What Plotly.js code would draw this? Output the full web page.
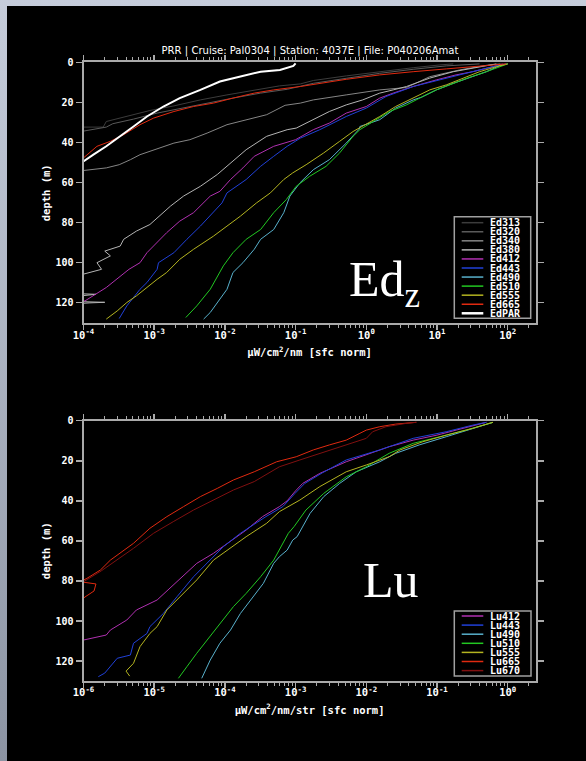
<!DOCTYPE html>
<html><head><meta charset="utf-8">
<script src="https://cdn.plot.ly/plotly-3.0.1.min.js"></script>
<style>
html,body{margin:0;padding:0;width:586px;height:761px;overflow:hidden;background:linear-gradient(#c6cddb,#8c94a3);}
#chart{width:586px;height:761px;}
</style></head><body><div id="chart"></div>
<script>
// ---------------- Ed (downwelling irradiance) ----------------
const edNames  = ["Ed313","Ed320","Ed340","Ed380","Ed412","Ed443","Ed490","Ed510","Ed555","Ed665","EdPAR"];
const edColors = ["#3c3c3c","#5a5a5a","#858585","#b4b4b4","#b030b0","#2040d8","#58b0cc","#22c822","#b4b420","#e02a10","#ffffff"];

const ed313_depth = [0.8,1.3,2.7,4.7,6.8,9.1,10.8,11.8,13.8,16.3,18.8,21.8,24.1,27.1,29.6,32.4,32.4,33];
const ed313_value = [17,11,4.6,1.55,0.52,0.178,0.117,0.059,0.026,0.0107,0.0045,0.0019,8.7e-4,4.1e-4,2.1e-4,1.9e-4,1.0e-4,0.8e-4];
const ed320_depth = [0.8,1.8,3.5,5.5,8.0,10.5,13.5,15.4,17.9,20.4,22.9,25.4,28.4,30.7,32.4,34.6,35];
const ed320_value = [40,13.5,4.6,1.55,0.52,0.178,0.076,0.032,0.013,0.0056,0.0023,0.0011,5.1e-4,2.6e-4,2.1e-4,1.0e-4,0.8e-4];
const ed340_depth = [0.8,1.5,3.8,7.2,12.6,13.8,16.3,18.8,20.4,21.5,26.2,28.7,31.2,35.4,38.7,40.4,43.7,46.2,48.7,51.2,52.8,54.0,54.5];
const ed340_value = [79,50,21,7.9,3.7,1.55,0.52,0.178,0.117,0.071,0.039,0.020,0.0107,0.0056,0.0032,0.0019,9.8e-4,6.3e-4,4.6e-4,3.2e-4,2.1e-4,1.0e-4,0.8e-4];
const ed380_depth = [0.8,2.2,4.7,7.9,12.1,13.8,15.4,18.8,21.3,24.6,28.7,32.9,33.7,37.0,43.7,50.3,56.1,62.0,66.9,71.9,76.9,81.1,84.4,88.5,91.9,94.4,96.8,100.2,103.5,106.0,108,115.5,116,116.8,117.5,119.5,120,120.3,121];
const ed380_value = [69,40,17,7.9,3.7,2.4,1.55,0.89,0.52,0.30,0.178,0.102,0.076,0.039,0.020,0.012,0.0078,0.0045,0.0026,0.0017,0.0012,8.7e-4,5.6e-4,3.7e-4,3.3e-4,2.0e-4,2.4e-4,1.55e-4,1.8e-4,1.0e-4,0.6e-4,0.6e-4,1.5e-4,0.9e-4,0.6e-4,0.6e-4,2.0e-4,1.2e-4,0.6e-4];
const ed412_depth = [0.8,2.2,4.7,6.3,8.8,12.1,15.4,17.9,22.1,25.4,30.4,33.7,38.7,42.0,47.0,52.8,58.6,64.5,66.9,75.2,79.4,85.2,95.2,100.2,103.5,112.6,119.3,120];
const ed412_value = [85,62,32,18.6,9.8,4.6,2.4,1.55,1.0,0.52,0.30,0.178,0.10,0.049,0.026,0.018,0.012,0.0085,0.0062,0.0036,0.0023,0.0015,7.9e-4,6.3e-4,4.4e-4,2.1e-4,1.05e-4,0.8e-4];
const ed443_depth = [0.8,1.3,3.8,6.3,8.8,12.1,17.1,22.9,27.1,33.7,37.9,42.0,47.0,52.0,58.6,65.3,70.3,81.9,88.5,95.2,100.2,103.5,110.1,113.5,121.8,128.1];
const ed443_value = [95,78,40,21,11,4.6,1.9,1.0,0.52,0.22,0.117,0.076,0.049,0.032,0.020,0.0107,0.0091,0.0045,0.0029,0.0019,0.00115,0.0011,7.9e-4,6.3e-4,4.1e-4,3.2e-4];
const ed490_depth = [0.8,1.5,4.7,7.5,10.5,13.8,17.5,18.8,22.9,28.7,32.1,33.5,40.4,48.7,53.7,60.3,66.9,75.2,83.6,88.5,93.5,100.2,105.1,113.5,120.1,125.1,128.4];
const ed490_value = [100,79,50,29,17,9.8,6.0,4.6,2.6,1.55,0.81,0.79,0.52,0.30,0.178,0.115,0.083,0.068,0.049,0.032,0.026,0.018,0.013,0.0107,0.0078,0.0062,0.0050];
const ed510_depth = [0.8,3.0,4.7,7.5,10.5,13.8,17.1,21.3,24.6,29.6,33.7,37.0,45.3,52.0,57.0,62.0,68.6,75.2,83.6,88.5,95.2,101.8,113.5,121.8,127.6];
const ed510_value = [100,69,50,29,17,9.8,6.3,3.7,2.14,1.23,0.81,0.65,0.42,0.27,0.158,0.102,0.074,0.049,0.032,0.020,0.013,0.0095,0.0062,0.0040,0.0028];
const ed555_depth = [0.8,2.2,4.7,8.0,11.3,13.8,17.9,22.1,27.1,33.0,34.6,39.5,45.3,51.2,55.3,58.6,65.3,70.3,76.9,81.9,86.9,93.5,98.5,105.1,108.5,116.8,120.1,124.3,128.4];
const ed555_value = [100,69,40,23,13.5,7.9,4.6,2.6,1.55,0.76,0.65,0.42,0.25,0.141,0.091,0.068,0.044,0.028,0.0166,0.0107,0.0069,0.0036,0.0023,0.0015,0.0011,5.6e-4,4.1e-4,3.0e-4,2.1e-4];
const ed665_depth = [0.8,1.8,3.3,4.7,6.3,8.5,11.3,12.1,13.8,15.4,17.9,20.4,22.1,24.6,27.9,31.2,36.2,39.5,42.0,47.8,48.5];
const ed665_value = [95,40,13.5,4.6,1.55,0.52,0.178,0.117,0.049,0.026,0.013,0.0069,0.0036,0.0019,9.8e-4,6.3e-4,3.7e-4,2.4e-4,1.55e-4,1.0e-4,0.8e-4];
const edpar_depth = [0.5,1.8,3.8,4.7,7.1,9.6,13.8,17.9,22.1,27.1,32.1,37.0,42.0,46.2,49.5,50.2];
const edpar_value = [0.10,0.093,0.060,0.032,0.0166,0.0085,0.0045,0.0023,0.00135,7.9e-4,5.1e-4,3.3e-4,2.1e-4,1.38e-4,1.0e-4,0.8e-4];

// ---------------- Lu (upwelling radiance) ----------------
const luNames  = ["Lu412","Lu443","Lu490","Lu510","Lu555","Lu665","Lu670"];
const luColors = ["#b030b0","#2040d8","#58b0cc","#22c822","#b4b420","#e02a10","#801010"];

const lu412_depth = [0.8,2.2,4.7,7.2,9.7,13.0,17.1,20.5,26.3,31.3,35.0,40.0,42.9,47.9,54.6,61.2,66.2,71.2,80.4,89.5,94.5,99.5,104.5,107.0,109.5,110];
const lu412_value = [0.50,0.36,0.186,0.10,0.046,0.021,0.010,0.0052,0.0022,0.00126,0.0010,7.6e-4,5.9e-4,3.4e-4,2.0e-4,1.07e-4,6.9e-5,4.0e-5,2.1e-5,1.1e-5,5.6e-6,4.1e-6,2.4e-6,2.1e-6,1.0e-6,0.8e-6];
const lu443_depth = [0.8,2.2,5.5,8.8,14.6,19.6,26.0,31.3,36.3,42.9,47.9,56.2,62.9,69.6,77.9,87.9,96.2,102.8,106.2,111.1,117.0,118.6,126,127.8];
const lu443_value = [0.50,0.32,0.135,0.046,0.0155,0.0052,0.0024,0.00135,9.8e-4,6.6e-4,3.8e-4,1.66e-4,9.5e-5,6.2e-5,3.6e-5,2.1e-5,1.35e-5,8.7e-6,7.9e-6,5.1e-6,4.6e-6,3.0e-6,2.0e-6,1.62e-6];
const lu490_depth = [0.8,3.8,8.0,12.1,16.3,20.5,25.5,31.3,37.9,46.3,57.9,59.6,64.6,67.9,71.2,81.2,89.5,96.2,104.5,111.1,119.5,128.6];
const lu490_value = [0.62,0.32,0.135,0.056,0.026,0.0155,0.0072,0.0042,0.0025,0.0016,0.00105,9.1e-4,7.6e-4,5.9e-4,4.9e-4,3.5e-4,2.3e-4,1.66e-4,1.2e-4,8.5e-5,6.2e-5,4.7e-5];
const lu510_depth = [0.8,4.7,8.0,11.3,16.3,23.0,28.0,36.3,44.6,52.9,56.2,61.2,69.6,77.9,86.2,92.8,101.2,109.5,116.1,122.8,128.6];
const lu510_value = [0.62,0.26,0.11,0.046,0.021,0.010,0.0052,0.0025,0.0014,9.5e-4,7.9e-4,6.6e-4,4.9e-4,3.2e-4,2.0e-4,1.32e-4,8.5e-5,5.6e-5,4.0e-5,2.9e-5,2.2e-5];
const lu555_depth = [0.8,3.8,7.2,10.5,14.6,18.0,22.1,25.5,32.9,39.6,45.4,51.2,57.9,64.6,69.6,79.5,87.9,94.5,102.8,106.2,112.8,121.1,125,127.5];
const lu555_value = [0.62,0.32,0.135,0.063,0.030,0.021,0.010,0.0052,0.0022,0.00115,5.9e-4,3.9e-4,2.0e-4,1.07e-4,6.9e-5,4.0e-5,2.3e-5,1.51e-5,1.1e-5,8.7e-6,6.3e-6,5.1e-6,4.0e-6,4.5e-6];
const lu665_depth = [0.8,1.7,3.0,4.7,6.3,9.7,12.1,14.6,18.0,20.5,25.5,29.6,33.8,37.9,42.9,47.9,53.7,61.2,69.6,74.5,78.7,80.4,81.5,85,88,90];
const lu665_value = [0.051,0.026,0.0155,0.010,0.0081,0.0052,0.0030,0.00178,0.00102,5.4e-4,2.6e-4,1.32e-4,7.8e-5,4.5e-5,2.6e-5,1.51e-5,8.7e-6,5.1e-6,2.4e-6,1.74e-6,1.12e-6,0.9e-6,1.5e-6,1.41e-6,1.05e-6,0.9e-6];
const lu670_depth = [0.8,1.3,3.0,5.5,8.8,13.0,16.3,19.6,23.0,24.6,30.4,34.6,39.6,44.6,50.4,56.2,63.7,70,75,80.4,81];
const lu670_value = [0.051,0.037,0.019,0.0123,0.010,0.0042,0.0022,0.00115,5.9e-4,4.9e-4,2.6e-4,1.32e-4,6.9e-5,3.6e-5,1.86e-5,9.8e-6,5.1e-6,2.8e-6,1.78e-6,1.0e-6,0.8e-6];

const depthTicks = [0,20,40,60,80,100,120];
const edTickVals = [1e-4,1e-3,1e-2,1e-1,1e0,1e1,1e2];
const edTickText = ["10<sup>-4</sup>","10<sup>-3</sup>","10<sup>-2</sup>","10<sup>-1</sup>","10<sup>0</sup>","10<sup>1</sup>","10<sup>2</sup>"];
const luTickVals = [1e-6,1e-5,1e-4,1e-3,1e-2,1e-1,1e0];
const luTickText = ["10<sup>-6</sup>","10<sup>-5</sup>","10<sup>-4</sup>","10<sup>-3</sup>","10<sup>-2</sup>","10<sup>-1</sup>","10<sup>0</sup>"];
const titleText = "PRR | Cruise: Pal0304 | Station: 4037E | File: P040206Amat";

// ---------------- build ----------------
const edSeries = [[ed313_value,ed313_depth],[ed320_value,ed320_depth],[ed340_value,ed340_depth],[ed380_value,ed380_depth],
  [ed412_value,ed412_depth],[ed443_value,ed443_depth],[ed490_value,ed490_depth],[ed510_value,ed510_depth],
  [ed555_value,ed555_depth],[ed665_value,ed665_depth],[edpar_value,edpar_depth]];
const luSeries = [[lu412_value,lu412_depth],[lu443_value,lu443_depth],[lu490_value,lu490_depth],[lu510_value,lu510_depth],
  [lu555_value,lu555_depth],[lu665_value,lu665_depth],[lu670_value,lu670_depth]];

const traces = [];
edSeries.forEach((s,i)=>traces.push({x:s[0],y:s[1],name:edNames[i],type:'scatter',mode:'lines',xaxis:'x',yaxis:'y',
  line:{color:edColors[i],width:edNames[i]==='EdPAR'?2:1},showlegend:false,hoverinfo:'skip'}));
luSeries.forEach((s,i)=>traces.push({x:s[0],y:s[1],name:luNames[i],type:'scatter',mode:'lines',xaxis:'x2',yaxis:'y2',
  line:{color:luColors[i],width:1},showlegend:false,hoverinfo:'skip'}));

const W=586,H=761;
const px=x=>x/W, py=y=>1-y/H;
const MONO="DejaVu Sans Mono, monospace";
const tickFont={family:MONO,size:10.5,color:'#ffffff',weight:'bold'};
const yTickFont={family:MONO,size:10,color:'#ffffff',weight:'bold'};
const titleFont={family:MONO,size:10.5,color:'#ffffff',weight:'bold'};
const AX='#aaaaaa';

function xAxis(range,anchor,title,tv,tt){
  return {type:'log',range:range,domain:[px(83.5),px(535.7)],anchor:anchor,showline:true,linecolor:AX,linewidth:2,
    mirror:'allticks',ticks:'outside',ticklen:5,tickwidth:1.5,tickcolor:AX,tickvals:tv,ticktext:tt,
    ticklabelstandoff:-4,showgrid:false,zeroline:false,tickfont:tickFont,
    minor:{ticks:'outside',ticklen:3,tickwidth:1,tickcolor:AX,dtick:'D1',showgrid:false},
    title:{text:title,font:titleFont,standoff:9}};
}
function yAxis(range,dom,anchor){
  return {range:range,domain:dom,anchor:anchor,showline:true,linecolor:AX,linewidth:2,mirror:'allticks',
    ticks:'outside',ticklen:6,tickwidth:1.5,tickcolor:AX,tickvals:depthTicks,showgrid:false,zeroline:false,
    tickfont:yTickFont,title:{text:'depth (m)',font:titleFont,standoff:3}};
}

const shapes=[{type:'rect',xref:'paper',yref:'paper',x0:px(7),x1:1,y0:0,y1:py(6),fillcolor:'#000000',line:{width:0},layer:'below'}];
const annotations=[];
function legend(names,colors,box,y0,step){
  shapes.push({type:'rect',xref:'paper',yref:'paper',x0:px(box[0]),x1:px(box[2]),y0:py(box[3]),y1:py(box[1]),
    line:{color:'#a0a0a0',width:1.5},fillcolor:'rgba(0,0,0,0)'});
  names.forEach((n,i)=>{
    const y=y0+i*step;
    shapes.push({type:'line',xref:'paper',yref:'paper',x0:px(461.7),x1:px(483.3),y0:py(y),y1:py(y),
      line:{color:colors[i],width:n==='EdPAR'?2.5:1.5}});
    annotations.push({xref:'paper',yref:'paper',x:px(488.5),y:py(y),xanchor:'left',yanchor:'middle',showarrow:false,
      text:n,font:{family:MONO,size:10,color:'#ffffff',weight:'bold'},borderpad:0});
  });
}
legend(edNames,edColors,[454.3,216.7,530.7,318.3],222.7,9.06);
legend(luNames,luColors,[454.3,611,531,676],616,9.1);

annotations.push({xref:'paper',yref:'paper',x:px(384),y:py(283),xanchor:'center',yanchor:'middle',showarrow:false,
  text:'Ed<sub>z</sub>',font:{family:'Liberation Serif, DejaVu Serif, serif',size:50,color:'#ffffff'}});
annotations.push({xref:'paper',yref:'paper',x:px(391),y:py(580),xanchor:'center',yanchor:'middle',showarrow:false,
  text:'Lu',font:{family:'Liberation Serif, DejaVu Serif, serif',size:50,color:'#ffffff'}});

const layout={
  width:W,height:H,margin:{l:0,r:0,t:0,b:0},
  paper_bgcolor:'rgba(0,0,0,0)',plot_bgcolor:'#000000',showlegend:false,
  title:{text:titleText,x:px(310),xanchor:'center',y:py(50),yanchor:'middle',yref:'paper',
    font:{family:'Liberation Sans Narrow, Arial Narrow, DejaVu Sans Condensed, sans-serif',size:11.2,color:'#ffffff'}},
  xaxis:xAxis([-4,2.396],'y','\u00b5W/cm<sup>2</sup>/nm [sfc norm]',edTickVals,edTickText),
  yaxis:yAxis([130.5,0],[py(323.3),py(62.3)],'x'),
  xaxis2:xAxis([-6,0.396],'y2','\u00b5W/cm<sup>2</sup>/nm/str [sfc norm]',luTickVals,luTickText),
  yaxis2:yAxis([129.8,0],[py(680.7),py(420.7)],'x2'),
  shapes:shapes,annotations:annotations
};
Plotly.newPlot('chart',traces,layout,{displayModeBar:false,staticPlot:true});
</script></body></html>
